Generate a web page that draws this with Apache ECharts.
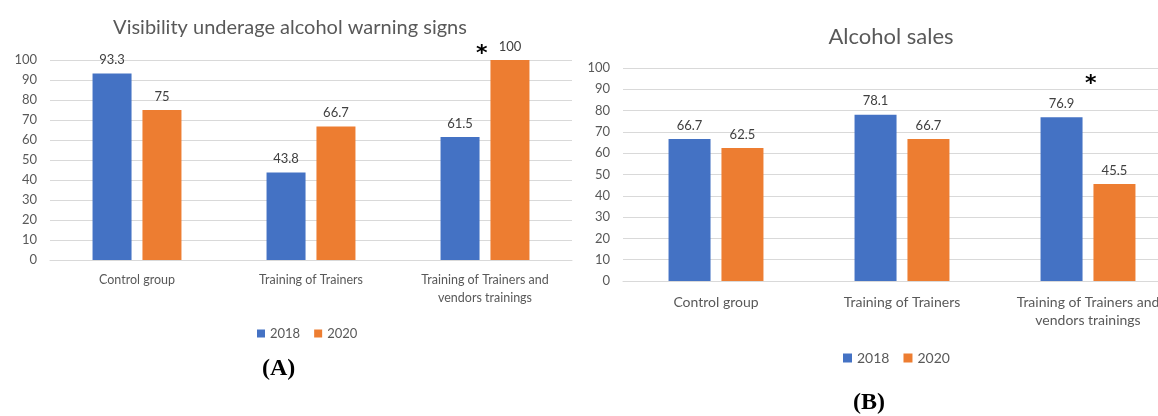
<!DOCTYPE html>
<html><head><meta charset="utf-8">
<script src="https://cdn.jsdelivr.net/npm/echarts@6/dist/echarts.min.js"></script>
<style>html,body{margin:0;padding:0;background:#fff;overflow:hidden;width:1158px;height:416px}#c{width:1181px;height:416px}</style>
</head><body><div id="c"></div>
<script>
const categories = ['Control group', 'Training of Trainers', 'Training of Trainers and\nvendors trainings'];
const seriesNames = ['2018', '2020'];
const visibility2018 = [93.3, 43.8, 61.5];
const visibility2020 = [75, 66.7, 100];
const sales2018 = [66.7, 78.1, 76.9];
const sales2020 = [62.5, 66.7, 45.5];
const yTicks = [0, 10, 20, 30, 40, 50, 60, 70, 80, 90, 100];
const titles = ['Visibility underage alcohol warning signs', 'Alcohol sales'];
const panelLabels = ['(A)', '(B)'];

const BLUE = '#4472C4', ORANGE = '#ED7D31', TXT = '#595959', FONT = 'Lato';
const chart = echarts.init(document.getElementById('c'));

function xAxis(gi, margin, fs, lh) {
  return {type: 'category', gridIndex: gi, data: categories,
    axisLine: {show: true, lineStyle: {color: '#d9d9d9', width: 1}}, axisTick: {show: false},
    axisLabel: {color: TXT, fontFamily: FONT, fontSize: fs, margin: margin, lineHeight: lh, interval: 0}};
}
function yAxis(gi) {
  return {type: 'value', gridIndex: gi, min: yTicks[0], max: yTicks[yTicks.length - 1], interval: 10,
    axisLine: {show: false}, axisTick: {show: false},
    splitLine: {lineStyle: {color: '#d9d9d9', width: 1}},
    axisLabel: {color: TXT, fontFamily: FONT, fontSize: 13, margin: 13}};
}
function bar(name, data, color, gi, w) {
  return {name: name, type: 'bar', data: data, xAxisIndex: gi, yAxisIndex: gi,
    barWidth: w, barGap: (gi === 0 ? '28%' : '26%'),
    itemStyle: {color: color},
    label: {show: true, position: 'top', distance: 7, color: '#404040', fontFamily: FONT, fontSize: 13}};
}

chart.setOption({
  animation: false,
  textStyle: {fontFamily: FONT},
  title: [
    {text: titles[0], left: 285, top: 13, textAlign: 'center', textStyle: {color: TXT, fontFamily: FONT, fontSize: 20, fontWeight: 'normal'}},
    {text: titles[1], left: 886, top: 21, textAlign: 'center', textStyle: {color: TXT, fontFamily: FONT, fontSize: 22, fontWeight: 'normal'}}
  ],
  legend: [
    {data: seriesNames, left: 252, top: 322, itemWidth: 8, itemHeight: 8, itemGap: 14, icon: 'rect',
      textStyle: {color: TXT, fontFamily: FONT, fontSize: 13}, selectedMode: false},
    {data: seriesNames, left: 838, top: 346, itemWidth: 9, itemHeight: 9, itemGap: 14, icon: 'rect',
      textStyle: {color: TXT, fontFamily: FONT, fontSize: 14}, selectedMode: false}
  ],
  grid: [
    {left: 50, top: 60, width: 522, height: 200},
    {left: 623, top: 68, width: 558, height: 213}
  ],
  xAxis: [xAxis(0, 11, 12.5, 18), xAxis(1, 12, 14, 18)],
  yAxis: [yAxis(0), yAxis(1)],
  series: [
    bar(seriesNames[0], visibility2018, BLUE, 0, 39),
    bar(seriesNames[1], visibility2020, ORANGE, 0, 39),
    bar(seriesNames[0], sales2018, BLUE, 1, 42),
    bar(seriesNames[1], sales2020, ORANGE, 1, 42)
  ],
  graphic: [
    {type: 'text', left: 476, top: 43, style: {text: '*', fill: '#000', font: 'bold 22px "DejaVu Sans"'}},
    {type: 'text', left: 1085, top: 73, style: {text: '*', fill: '#000', font: 'bold 22px "DejaVu Sans"'}},
    {type: 'text', left: 262, top: 357, style: {text: panelLabels[0], fill: '#000', font: 'bold 24px "Liberation Serif"'}},
    {type: 'text', left: 853, top: 391, style: {text: panelLabels[1], fill: '#000', font: 'bold 24px "Liberation Serif"'}}
  ]
});
</script></body></html>
